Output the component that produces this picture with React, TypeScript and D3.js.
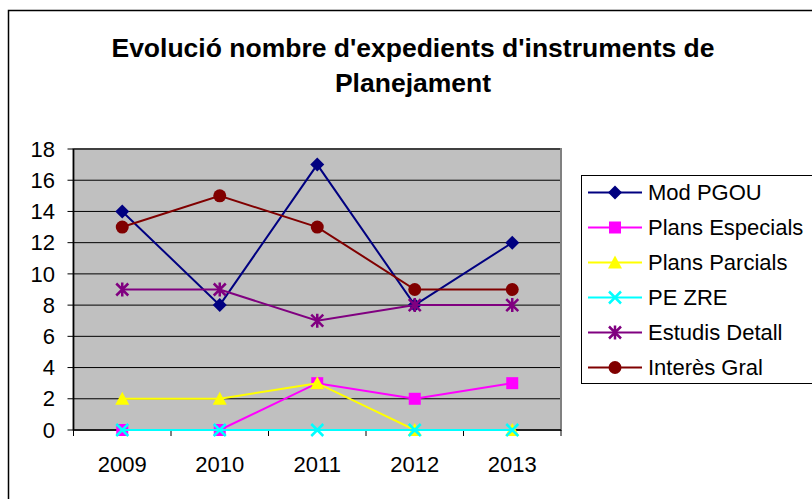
import React from "react";
import * as d3 from "d3";

const categories = ["2009", "2010", "2011", "2012", "2013"];
const seriesNames = ["Mod PGOU", "Plans Especials", "Plans Parcials", "PE ZRE", "Estudis Detall", "Interès Gral"];
const modPGOU = [14, 8, 17, 8, 12];
const plansEspecials = [0, 0, 3, 2, 3];
const plansParcials = [2, 2, 3, 0, 0];
const peZRE = [0, 0, 0, 0, 0];
const estudisDetall = [9, 9, 7, 8, 8];
const interesGral = [13, 15, 13, 9, 9];
const yTicks = [0, 2, 4, 6, 8, 10, 12, 14, 16, 18];
const titleLines = ["Evolució nombre d'expedients d'instruments de", "Planejament"];

const colors = ["#000080", "#FF00FF", "#FFFF00", "#00FFFF", "#800080", "#800000"];
const markerTypes = ["diamond", "square", "triangle", "x", "asterisk", "circle"];
const allValues = [modPGOU, plansEspecials, plansParcials, peZRE, estudisDetall, interesGral];

function Marker({ type, color, cx, cy }: { type: string; color: string; cx: number; cy: number }) {
  const t = `translate(${cx},${cy})`;
  if (type === "diamond") return <path transform={t} d="M0,-7L7,0L0,7L-7,0Z" fill={color} />;
  if (type === "square") return <rect x={cx - 6} y={cy - 6} width={12} height={12} fill={color} />;
  if (type === "triangle") return <path transform={t} d="M0,-7L7,6L-7,6Z" fill={color} />;
  if (type === "circle") return <circle cx={cx} cy={cy} r={6.5} fill={color} />;
  if (type === "x") return <path transform={t} d="M-6,-6L6,6M6,-6L-6,6" stroke={color} strokeWidth={2.5} fill="none" />;
  if (type === "asterisk")
    return <path transform={t} d="M-6,-6L6,6M6,-6L-6,6M0,-7L0,7" stroke={color} strokeWidth={2.5} fill="none" />;
  return null;
}

export default function App() {
  const W = 812, H = 499;
  const left = 73.5, right = 561, top = 149, bottom = 430;
  const x = d3.scaleBand().domain(categories).range([left, right]);
  const y = d3.scaleLinear().domain([0, 18]).range([bottom, top]);
  const line = d3.line<number>().x((_, i) => x(categories[i])! + x.bandwidth() / 2).y((d) => y(d));
  const font = "'Liberation Sans', Arial, sans-serif";
  const boundaries = [...categories.map((c) => x(c)!), right];
  const legendX = 581, legendY = 175;

  return (
    <svg width={W} height={H} style={{ position: "absolute", left: 0, top: 0 }} fontFamily={font}>
      <rect x={0} y={0} width={W} height={H} fill="#fff" />
      <rect x={8.5} y={10.5} width={W} height={H} fill="#fff" stroke="#000" strokeWidth={1.5} />
      {titleLines.map((l, i) => (
        <text key={i} x={413} y={57.3 + i * 35} textAnchor="middle" fontWeight="bold" fontSize={26.5}>
          {l}
        </text>
      ))}
      <rect x={left} y={top} width={right - left} height={bottom - top} fill="#C0C0C0" stroke="#808080" strokeWidth={2} />
      {yTicks.map((t) => (
        <g key={t}>
          {t > 0 && <line x1={left} x2={right - 1} y1={y(t)} y2={y(t)} stroke="#000" strokeWidth={1} />}
          <line x1={left - 6} x2={left} y1={y(t)} y2={y(t)} stroke="#000" strokeWidth={1} />
          <text x={55} y={y(t)} dy="0.35em" textAnchor="end" fontSize={22}>
            {t}
          </text>
        </g>
      ))}
      <line x1={left} x2={left} y1={top} y2={bottom} stroke="#000" strokeWidth={1.5} />
      <line x1={left} x2={right} y1={bottom} y2={bottom} stroke="#000" strokeWidth={1.5} />
      {boundaries.map((b, i) => (
        <line key={i} x1={b} x2={b} y1={bottom} y2={bottom + 6} stroke="#000" strokeWidth={1} />
      ))}
      {categories.map((c) => (
        <text key={c} x={x(c)! + x.bandwidth() / 2} y={472} textAnchor="middle" fontSize={22}>
          {c}
        </text>
      ))}
      {allValues.map((vals, si) => (
        <g key={si}>
          <path d={line(vals)!} fill="none" stroke={colors[si]} strokeWidth={2} />
          {vals.map((v, i) => (
            <Marker key={i} type={markerTypes[si]} color={colors[si]} cx={x(categories[i])! + x.bandwidth() / 2} cy={y(v)} />
          ))}
        </g>
      ))}
      <rect x={legendX + 0.5} y={legendY + 0.5} width={260} height={208} fill="#fff" stroke="#000" strokeWidth={1} />
      {seriesNames.map((n, i) => {
        const cy = 192.5 + i * 35;
        return (
          <g key={n}>
            <line x1={588} x2={642} y1={cy} y2={cy} stroke={colors[i]} strokeWidth={2} />
            <Marker type={markerTypes[i]} color={colors[i]} cx={615} cy={cy} />
            <text x={648} y={cy} dy="0.35em" fontSize={22}>
              {n}
            </text>
          </g>
        );
      })}
    </svg>
  );
}
